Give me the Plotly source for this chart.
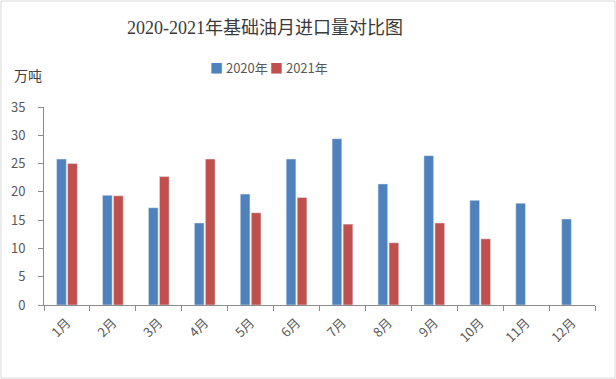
import plotly.graph_objects as go

months = ["1月", "2月", "3月", "4月", "5月", "6月", "7月", "8月", "9月", "10月", "11月", "12月"]
imports_2020 = [25.8, 19.4, 17.2, 14.5, 19.6, 25.8, 29.4, 21.4, 26.4, 18.5, 18.0, 15.2]
imports_2021 = [25.0, 19.3, 22.7, 25.8, 16.3, 19.0, 14.3, 11.0, 14.5, 11.7, None, None]
series_names = ["2020年", "2021年"]
series_colors = ["#4F81BD", "#C0504D"]
title_text = "2020-2021年基础油月进口量对比图"
unit_text = "万吨"

W, H = 616, 379
L, R, T, B = 44, 21, 107, 74
pw = W - L - R
ph = H - T - B

def px_x(p):
    return (p - L) / pw

def px_y(p):
    return (H - B - p) / ph

cjk = "Noto Sans CJK SC"
grey = "#595959"

fig = go.Figure()
for name, vals, col in zip(series_names, [imports_2020, imports_2021], series_colors):
    fig.add_trace(go.Bar(x=months, y=vals, name=name, marker_color=col))

fig.update_layout(
    width=W, height=H,
    margin=dict(l=L, r=R, t=T, b=B, autoexpand=False),
    paper_bgcolor="white", plot_bgcolor="white",
    barmode="group", bargap=0.52, bargroupgap=0.12,
    font=dict(family=cjk, color=grey, size=13),
    showlegend=False,
    xaxis=dict(showline=True, linecolor="#8C8C8C", linewidth=1, ticks="outside", ticklen=5,
               tickcolor="#8C8C8C", tickson="boundaries", tickangle=-45, ticklabelstandoff=4,
               tickfont=dict(size=13, color=grey, family=cjk), showgrid=False),
    yaxis=dict(range=[0, 35], dtick=5, showline=True, linecolor="#8C8C8C", linewidth=1,
               ticks="outside", ticklen=5, tickcolor="#8C8C8C", showgrid=False, zeroline=False,
               tickfont=dict(size=13, color=grey, family=cjk), ticklabelstandoff=10),
)

# legend drawn as text items
legend_x = [208, 268]
for name, col, lx in zip(series_names, series_colors, legend_x):
    fig.add_annotation(text=f"<span style='color:{col}'>■</span> {name}", xref="paper", yref="paper",
                       x=px_x(lx), y=px_y(67), xanchor="left", yanchor="middle", showarrow=False,
                       font=dict(size=13, color=grey, family=cjk))

fig.add_annotation(text=title_text, xref="paper", yref="paper", x=px_x(265), y=px_y(28),
                   xanchor="center", yanchor="middle", showarrow=False,
                   font=dict(size=18, color="#3A3A3A", family="Liberation Serif, " + cjk))
fig.add_annotation(text=unit_text, xref="paper", yref="paper", x=px_x(12), y=px_y(75),
                   xanchor="left", yanchor="middle", showarrow=False,
                   font=dict(size=14, color="#404040", family=cjk))
fig.add_shape(type="rect", xref="paper", yref="paper", x0=px_x(1), x1=px_x(615), y0=px_y(378), y1=px_y(1),
              line=dict(color="#D9D9D9", width=1), fillcolor="rgba(0,0,0,0)", layer="below")

fig.write_html("out.html", config={"displayModeBar": False})

with open("out.html", "r", encoding="utf-8") as f:
    html = f.read()
html = html.replace("<head>", "<head><style>html,body{margin:0;padding:0;overflow:hidden;}</style>", 1)
with open("out.html", "w", encoding="utf-8") as f:
    f.write(html)
